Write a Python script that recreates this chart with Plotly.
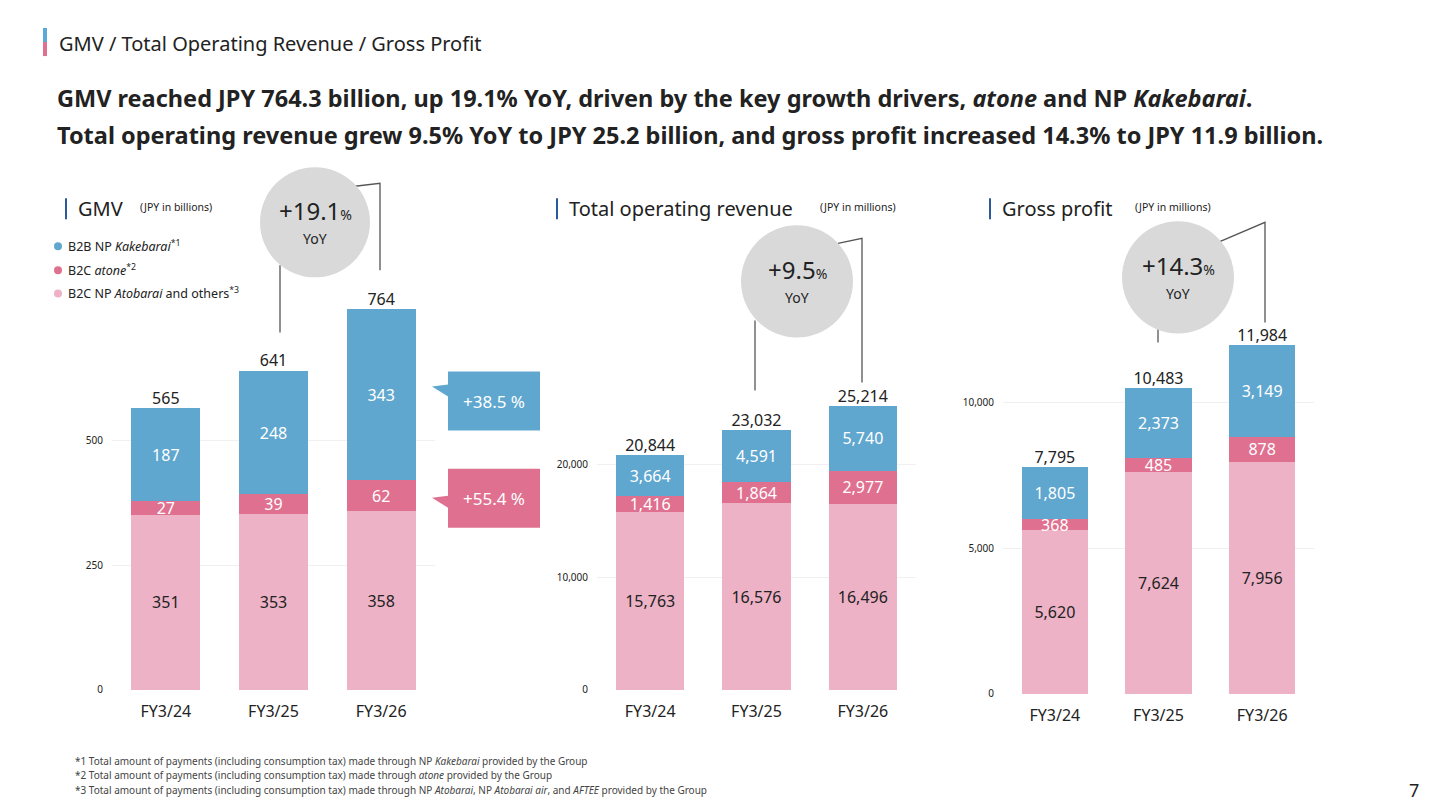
import plotly.graph_objects as go

cats = ["FY3/24", "FY3/25", "FY3/26"]
gmv_others = [351, 353, 358]
gmv_atone = [27, 39, 62]
gmv_kake = [187, 248, 343]
gmv_total = [565, 641, 764]
rev_others = [15763, 16576, 16496]
rev_atone = [1416, 1864, 2977]
rev_kake = [3664, 4591, 5740]
rev_total = [20844, 23032, 25214]
gp_others = [5620, 7624, 7956]
gp_atone = [368, 485, 878]
gp_kake = [1805, 2373, 3149]
gp_total = [7795, 10483, 11984]

BLUE = "#60a7cf"; RED = "#e0708f"; LPINK = "#edb2c6"; DARK = "#222222"
FONT = "Noto Sans"
W, H = 1440, 810
OFF, SC = 8, 0.99
fx = lambda p: (p - OFF) / W
fy = lambda p: 1 - ((p - OFF) / SC) / H

fig = go.Figure()
panels = [
    (gmv_others, gmv_atone, gmv_kake, gmv_total, (112, 435), (689, 300), 781, [0, 250, 500]),
    (rev_others, rev_atone, rev_kake, rev_total, (597, 916), (689, 300), 34578, [0, 10000, 20000]),
    (gp_others, gp_atone, gp_kake, gp_total, (1003, 1314), (693, 300), 13505, [0, 5000, 10000]),
]
for i, (o, a, k, t, xd, yd, ymax, ticks) in enumerate(panels):
    n = "" if i == 0 else str(i + 1)
    for vals, col, tc in [(o, LPINK, DARK), (a, RED, "white"), (k, BLUE, "white")]:
        fig.add_bar(x=cats, y=vals, marker=dict(color=col, line=dict(width=0)), width=0.64,
                    text=[f"{v:,}" for v in vals], textposition="inside", insidetextanchor="middle",
                    textfont=dict(color=tc, size=16, family=FONT), xaxis="x" + n, yaxis="y" + n,
                    showlegend=False, hoverinfo="skip", constraintext="none", textangle=0)
    fig.add_scatter(x=cats, y=t, mode="text", text=[f"{v:,}" for v in t], textposition="top center",
                    textfont=dict(size=16, color=DARK, family=FONT), xaxis="x" + n, yaxis="y" + n,
                    showlegend=False, hoverinfo="skip", cliponaxis=False)
    fig.update_layout(**{
        "xaxis" + n: dict(domain=[fx(xd[0]), fx(xd[1])], range=[-0.5, 2.5], showline=False, showgrid=False,
                          tickfont=dict(size=16, color=DARK, family=FONT), ticks="", anchor="y" + n,
                          ticklabelstandoff=10),
        "yaxis" + n: dict(domain=[fy(yd[0]), fy(yd[1])], range=[0, ymax], tickvals=ticks,
                          ticktext=[f"{v:,}" for v in ticks], showgrid=True, gridcolor="#f0f0f0",
                          zeroline=False, tickfont=dict(size=10, color=DARK, family=FONT),
                          anchor="x" + n, ticklabelstandoff=8),
    })
fig.update_layout(barmode="stack", width=W, height=H, margin=dict(l=0, r=0, t=0, b=0),
                  plot_bgcolor="white", paper_bgcolor="white", font=dict(family=FONT))

shapes = []; ann = []
def text(x, y, s, size, color=DARK, xanchor="left"):
    ann.append(dict(x=fx(x), y=fy(y), xref="paper", yref="paper", text=s, showarrow=False,
                    xanchor=xanchor, yanchor="middle", font=dict(size=size, color=color, family=FONT)))
shapes.append(dict(type="rect", xref="paper", yref="paper", x0=fx(43), x1=fx(47), y0=fy(42), y1=fy(28), fillcolor="#5aa9d8", line_width=0))
shapes.append(dict(type="rect", xref="paper", yref="paper", x0=fx(43), x1=fx(47), y0=fy(56), y1=fy(42), fillcolor="#e0708f", line_width=0))
text(57, 43, "GMV / Total Operating Revenue / Gross Profit", 20)
text(55, 98, "<b>GMV reached JPY 764.3 billion, up 19.1% YoY, driven by the key growth drivers, <i>atone</i> and NP <i>Kakebarai</i>.</b>", 23.5)
text(55, 135, "<b>Total operating revenue grew 9.5% YoY to JPY 25.2 billion, and gross profit increased 14.3% to JPY 11.9 billion.</b>", 23.5)
for x, t1, t2, x2 in [(66, "GMV", "(JPY in billions)", 138), (557, "Total operating revenue", "(JPY in millions)", 818), (990, "Gross profit", "(JPY in millions)", 1133)]:
    shapes.append(dict(type="line", xref="paper", yref="paper", x0=fx(x), x1=fx(x), y0=fy(198), y1=fy(219), line=dict(color="#2a5a9a", width=2)))
    text(x + 10, 208, t1, 20)
    text(x2, 207, t2, 10.5)
for y, c, s in [(246, BLUE, "B2B NP <i>Kakebarai</i><sup>*1</sup>"), (270, RED, "B2C <i>atone</i><sup>*2</sup>"), (293, LPINK, "B2C NP <i>Atobarai</i> and others<sup>*3</sup>")]:
    shapes.append(dict(type="circle", xref="paper", yref="paper", x0=fx(54), x1=fx(62), y0=fy(y + 4), y1=fy(y - 4), fillcolor=c, line_width=0))
    text(66, y, s, 12.5)
for cx, cy, r, pct, top, bot in [(315, 222, 55, "+19.1", (355, 186, 380, 183, 380, 270), (280, 265, 280, 332)),
                                  (797, 281, 56, "+9.5", (838, 243, 862, 238, 862, 382), (755, 320, 755, 390)),
                                  (1178, 277, 56, "+14.3", (1218, 242, 1265, 222, 1265, 322), (1158, 322, 1158, 342))]:
    shapes.append(dict(type="path", xref="paper", yref="paper",
                       path=f"M {fx(top[0])} {fy(top[1])} L {fx(top[2])} {fy(top[3])} L {fx(top[4])} {fy(top[5])}",
                       line=dict(color="#555", width=1.3)))
    shapes.append(dict(type="line", xref="paper", yref="paper", x0=fx(bot[0]), y0=fy(bot[1]), x1=fx(bot[2]), y1=fy(bot[3]), line=dict(color="#555", width=1.3)))
    shapes.append(dict(type="circle", xref="paper", yref="paper", x0=fx(cx - r), x1=fx(cx + r), y0=fy(cy + r), y1=fy(cy - r), fillcolor="#d9d9d9", line_width=0))
    text(cx, cy - 12, f"{pct}<span style='font-size:14px'>%</span>", 24, xanchor="center")
    text(cx, cy + 16, "YoY", 14, xanchor="center")
for y0, y1, tip, c, s in [(371, 430, 386, BLUE, "+38.5 %"), (468, 527, 497, RED, "+55.4 %")]:
    p = f"M {fx(448)} {fy(y0)} L {fx(540)} {fy(y0)} L {fx(540)} {fy(y1)} L {fx(448)} {fy(y1)} L {fx(448)} {fy(tip + 10)} L {fx(432)} {fy(tip)} L {fx(448)} {fy(tip - 2)} Z"
    shapes.append(dict(type="path", xref="paper", yref="paper", path=p, fillcolor=c, line_width=0))
    text(494, (y0 + y1) / 2, s, 17, color="white", xanchor="center")
text(73, 760, "*1 Total amount of payments (including consumption tax) made through NP <i>Kakebarai</i> provided by the Group", 10, "#444")
text(73, 774, "*2 Total amount of payments (including consumption tax) made through <i>atone</i> provided by the Group", 10, "#444")
text(73, 789, "*3 Total amount of payments (including consumption tax) made through NP <i>Atobarai</i>, NP <i>Atobarai air</i>, and <i>AFTEE</i> provided by the Group", 10, "#444")
text(1414, 789, "7", 18, xanchor="center")
fig.update_layout(shapes=shapes, annotations=ann)
fig.write_html("out.html")
